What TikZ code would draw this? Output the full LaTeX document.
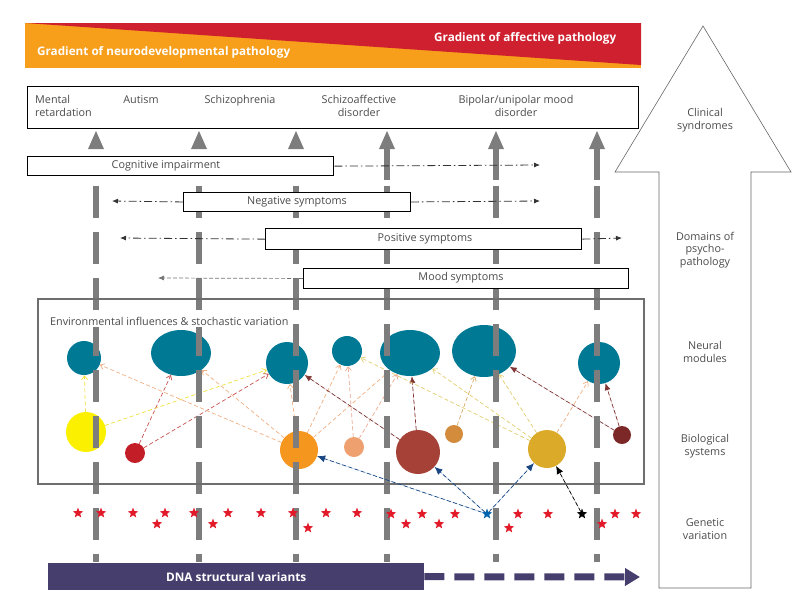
\documentclass[tikz,border=0pt]{standalone}
\usepackage{fontspec}
\setmainfont{Open Sans}
\usetikzlibrary{shapes.geometric,arrows.meta}
\definecolor{bOrange}{RGB}{247,158,27}
\definecolor{bRed}{RGB}{206,32,46}
\definecolor{modTeal}{RGB}{0,122,148}
\definecolor{txtGray}{RGB}{75,75,75}
\definecolor{colGray}{RGB}{125,125,125}
\definecolor{envGray}{RGB}{110,110,110}
\definecolor{cYel}{RGB}{250,240,0}
\definecolor{cRedC}{RGB}{195,30,40}
\definecolor{cOrC}{RGB}{245,150,30}
\definecolor{cSalC}{RGB}{238,160,110}
\definecolor{cBrC}{RGB}{165,65,55}
\definecolor{cTanC}{RGB}{210,140,60}
\definecolor{cGoldC}{RGB}{218,170,40}
\definecolor{cMarC}{RGB}{125,40,40}
\definecolor{dnaBlue}{RGB}{70,63,110}
\definecolor{starRed}{RGB}{225,25,40}
\definecolor{lOr}{RGB}{240,175,130}
\definecolor{lYel}{RGB}{240,225,60}
\definecolor{lRed}{RGB}{200,80,80}
\definecolor{lBr}{RGB}{130,55,55}
\definecolor{lSal}{RGB}{235,170,145}
\definecolor{lTan}{RGB}{215,170,100}
\definecolor{lGold}{RGB}{225,205,110}
\definecolor{lBlue}{RGB}{25,70,130}
\definecolor{tBlue}{RGB}{0,100,175}
\tikzset{
  lbl/.style={font=\fontsize{10.8}{12.5}\selectfont, text=txtGray, inner sep=0pt},
  bantext/.style={font=\fontsize{11.7}{13}\selectfont\bfseries, text=white, inner sep=0pt},
  colline/.style={line width=6pt, draw=colGray},
  symbox/.style={draw=black, fill=white, anchor=north west, inner sep=0pt},
  symarr/.style={dash pattern=on 8pt off 3pt on 1.5pt off 3pt, line width=0.8pt, draw=black!80, -{Latex[length=6pt,width=5pt]}},
  modnode/.style={ellipse, fill=modTeal, inner sep=0pt},
  bionode/.style={circle, inner sep=0pt},
  conn/.style={dash pattern=on 4pt off 2.5pt, line width=0.7pt},
  tipo/.style={-{Straight Barb[length=4pt,width=6pt]}},
  tipf/.style={-{Latex[length=7pt,width=6pt]}},
  gstar/.style={star, star points=5, star point ratio=2.4, fill=starRed, inner sep=0pt, minimum size=11pt},
}
\begin{document}
\begin{tikzpicture}[x=1pt,y=-1pt]
\useasboundingbox (0,0) rectangle (800,600);

% banner
\fill[bOrange] (25,23) rectangle (641,68);
\fill[bRed] (25,23) -- (641,23) -- (641,65) -- cycle;
\node[bantext, anchor=west] (gaff) at (434,38) {Gradient of affective pathology};
\node[bantext, anchor=west] (gneu) at (37,52) {Gradient of neurodevelopmental pathology};

% clinical syndromes box
\node[draw, line width=1.2pt, anchor=north west, minimum width=611, minimum height=42, inner sep=0pt] (clin) at (27,86) {};
\node[lbl, align=left, anchor=north west] (mr) at (35,95.5) {Mental\\retardation};
\node[lbl, anchor=north] (aut) at (141,95.5) {Autism};
\node[lbl, anchor=north] (scz) at (240,95.5) {Schizophrenia};
\node[lbl, align=center, anchor=north] (sad) at (359,95.5) {Schizoaffective\\disorder};
\node[lbl, align=center, anchor=north] (bip) at (516,95.5) {Bipolar/unipolar mood\\disorder};

% neural modules
\node[modnode, minimum width=34, minimum height=34] (N1) at (84,358) {};
\node[modnode, minimum width=60, minimum height=46] (N2) at (181,353) {};
\node[modnode, minimum width=42, minimum height=42] (N3) at (287,363) {};
\node[modnode, minimum width=30, minimum height=30] (N4) at (347,351) {};
\node[modnode, minimum width=60, minimum height=46] (N5) at (410,353) {};
\node[modnode, minimum width=64, minimum height=52] (N6) at (484,351) {};
\node[modnode, minimum width=42, minimum height=42] (N7) at (599,363) {};

% biological systems
\node[bionode, fill=cYel, minimum size=40] (Y) at (86,432) {};
\node[bionode, fill=cRedC, minimum size=20] (R) at (135,453) {};
\node[bionode, fill=cOrC, minimum size=38] (O) at (299,450) {};
\node[bionode, fill=cSalC, minimum size=20] (S) at (354,447) {};
\node[bionode, fill=cBrC, minimum size=44] (B) at (418,452) {};
\node[bionode, fill=cTanC, minimum size=18] (T) at (454,434) {};
\node[bionode, fill=cGoldC, minimum size=38] (G) at (547,449) {};
\node[bionode, fill=cMarC, minimum size=18] (M) at (622,435) {};

% connectors biological -> neural
\draw[conn, tipo, draw=lYel] (Y) -- (N1);
\draw[conn, tipo, draw=lYel] (Y) -- (N3);
\draw[conn, tipo, draw=lRed] (R) -- (N2);
\draw[conn, tipo, draw=lRed] (R) -- (N3);
\draw[conn, tipo, draw=lOr] (O) -- (N1);
\draw[conn, tipo, draw=lOr] (O) -- (N2);
\draw[conn, tipo, draw=lOr] (O) -- (N3);
\draw[conn, tipo, draw=lOr] (O) -- (N4);
\draw[conn, tipo, draw=lOr] (O) -- (N5);
\draw[conn, tipo, draw=lSal] (S) -- (N4);
\draw[conn, tipo, draw=lSal] (S) -- (N5);
\draw[conn, tipf, draw=lBr, fill=lBr] (B) -- (N3);
\draw[conn, tipf, draw=lBr, fill=lBr] (B) -- (N5);
\draw[conn, tipo, draw=lTan] (T) -- (N6);
\draw[conn, tipo, draw=lGold] (G) -- (N4);
\draw[conn, tipo, draw=lGold] (G) -- (N5);
\draw[conn, tipo, draw=lGold] (G) -- (N6);
\draw[conn, tipo, draw=lOr] (G) -- (N7);
\draw[conn, tipf, draw=lBr, fill=lBr] (M) -- (N6);
\draw[conn, tipf, draw=lBr, fill=lBr] (M) -- (N7);

% columns
\foreach \cx in {96,199,296,387,496,597} {
  \fill[colGray] (\cx-8,149) -- (\cx,131) -- (\cx+8,149) -- cycle;
  \draw[colline, dash pattern=on 32pt off 14pt] (\cx,186) -- (\cx,562);
}
\foreach \cx in {387,496,597} {
  \draw[colline] (\cx,148) -- (\cx,180);
}

% symptom domains
\node[symbox, line width=1.3pt, minimum width=306, minimum height=19] (cog) at (27,156) {};
\node[lbl] (cogt) at (166,165.5) {Cognitive impairment};
\coordinate (cogR) at (540,165);
\draw[symarr] (cog.east) -- (cogR);

\node[symbox, line width=0.9pt, minimum width=227, minimum height=19] (neg) at (183,192) {};
\node[lbl] (negt) at (297,201.5) {Negative symptoms};
\coordinate (negL) at (112,201);
\coordinate (negR) at (540,201);
\draw[symarr] (neg.west) -- (negL);
\draw[symarr] (neg.east) -- (negR);

\node[symbox, line width=1.3pt, minimum width=316, minimum height=21] (pos) at (265,228) {};
\node[lbl] (post) at (425,238.5) {Positive symptoms};
\coordinate (posL) at (120,238);
\coordinate (posR) at (622,238);
\draw[symarr] (pos.west) -- (posL);
\draw[symarr] (pos.east) -- (posR);

\node[symbox, line width=0.9pt, minimum width=325, minimum height=20] (mood) at (303,268) {};
\node[lbl] (moodt) at (461,277.5) {Mood symptoms};
\coordinate (moodL) at (158,278);
\draw[dash pattern=on 4pt off 2pt, line width=0.7pt, draw=black!55, -{Latex[length=6pt,width=5pt]}] (mood.west) -- (moodL);

% environment box
\node[draw=envGray, line width=2pt, anchor=north west, minimum width=606, minimum height=185, inner sep=0pt] (env) at (37,298) {};
\node[lbl, fill=white, anchor=west, inner sep=2pt] (envt) at (48,321) {Environmental influences \& stochastic variation};

% genetic variation stars
\foreach \sx/\sy [count=\i] in {78/513,101/513,133/513,157/524,165/513,194/513,213/524,228/513,261/513,293/513,308/528,326/513,357/513,391/514,406/524,422/514,439/524,455/514,518/514,509/528,548/514,602/524,615/514,636/514} {
  \node[gstar] (s\i) at (\sx,\sy) {};
}
\node[gstar, fill=tBlue] (sb) at (487,514) {};
\node[gstar, fill=black] (sk) at (582,514) {};

\draw[conn, draw=lBlue, -{Latex[length=8pt,width=7pt]}, fill=tBlue] (sb) -- (O);
\draw[conn, draw=lBlue, -{Latex[length=8pt,width=7pt]}, fill=tBlue] (sb) -- (B);
\draw[conn, draw=lBlue, -{Latex[length=8pt,width=7pt]}, fill=tBlue] (sb) -- (G);
\draw[conn, draw=black, -{Latex[length=8pt,width=7pt]}, fill=black] (sk) -- (G);

% DNA structural variants
\node[fill=dnaBlue, anchor=north west, minimum width=376, minimum height=27, inner sep=0pt,
      font=\fontsize{11.8}{13}\selectfont\bfseries, text=white] (dna) at (48,563) {DNA structural variants};
\coordinate (dnaEnd) at (640,577);
\draw[draw=dnaBlue, line width=7pt, dash pattern=on 20pt off 10pt, -{Triangle[length=15pt,width=17pt]}] (dna.east) -- (dnaEnd);

% big level arrow
\draw[draw=black!60, line width=0.6pt] (659,588) -- (659,172) -- (615,172) -- (703,26) -- (791,172) -- (751,172) -- (751,588) -- cycle;
\node[lbl, align=center] (lv1) at (705,120) {Clinical\\syndromes};
\node[lbl, align=center] (lv2) at (705,250) {Domains of\\psycho-\\pathology};
\node[lbl, align=center] (lv3) at (705,352) {Neural\\modules};
\node[lbl, align=center] (lv4) at (705,446) {Biological\\systems};
\node[lbl, align=center] (lv5) at (705,529) {Genetic\\variation};
\end{tikzpicture}
\end{document}
